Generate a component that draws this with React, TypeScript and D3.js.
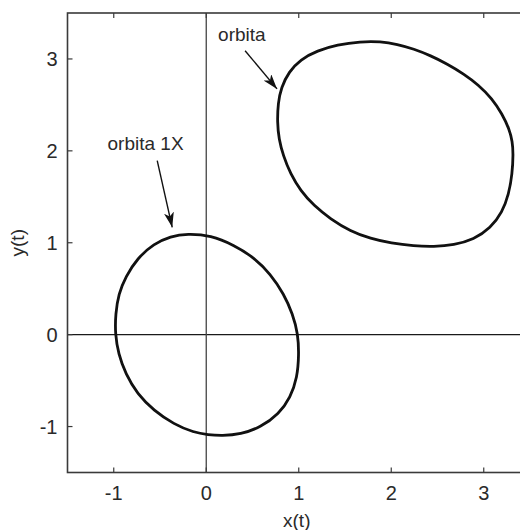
import React from "react";
import * as d3 from "d3";

// Closed orbits of the system, sampled counter-clockwise in the (x, y) phase plane
const orbit1X: [number, number][] = [
  [0.992, 0.008], [0.935, 0.225], [0.839, 0.443], [0.695, 0.66], [0.515, 0.841],
  [0.298, 0.975], [0.05, 1.08], [-0.205, 1.1], [-0.386, 1.07], [-0.566, 0.99],
  [-0.746, 0.83], [-0.872, 0.63], [-0.948, 0.443], [-0.981, 0.225], [-0.985, 0.008],
  [-0.95, -0.21], [-0.872, -0.428], [-0.746, -0.645], [-0.566, -0.827], [-0.35, -0.975],
  [-0.134, -1.065], [0.02, -1.09], [0.17, -1.1], [0.371, -1.085], [0.587, -1.009],
  [0.785, -0.863], [0.911, -0.682], [0.984, -0.465], [1.002, -0.22],
];

const orbitMain: [number, number][] = [
  [3.319, 1.966], [3.31, 2.1], [3.275, 2.24], [3.2, 2.4], [3.09, 2.57],
  [2.94, 2.72], [2.785, 2.837], [2.605, 2.946], [2.425, 3.036], [2.244, 3.109],
  [2.065, 3.16], [1.884, 3.19], [1.668, 3.19], [1.416, 3.155], [1.2, 3.09],
  [1.019, 2.995], [0.893, 2.86], [0.81, 2.69], [0.776, 2.52], [0.768, 2.31],
  [0.785, 2.13], [0.832, 1.948], [0.911, 1.749], [1.019, 1.567], [1.163, 1.404],
  [1.343, 1.259], [1.559, 1.125], [1.776, 1.045], [2.0, 0.995], [2.244, 0.965],
  [2.461, 0.957], [2.677, 0.975], [2.893, 1.035], [3.074, 1.16], [3.2, 1.33],
  [3.271, 1.53], [3.308, 1.749],
];

const xTicks = [-1, 0, 1, 2, 3];
const yTicks = [-1, 0, 1, 2, 3];
const xDomain: [number, number] = [-1.5, 3.5];
const yDomain: [number, number] = [-1.5, 3.5];

// Annotation labels with arrows: text anchor, arrow tail, arrow tip (data coords)
const annotationLabels = ["orbita 1X", "orbita"];
const annotationText: [number, number][] = [[-1.067, 2.013], [0.128, 3.19]];
const arrowTail: [number, number][] = [[-0.53, 1.893], [0.42, 3.09]];
const arrowTip: [number, number][] = [[-0.368, 1.168], [0.765, 2.674]];

const W = 520;
const H = 530;
const left = 67.5;
const right = 530;
const top = 13;
const bottom = 472.5;

export default function App() {
  const x = d3.scaleLinear().domain(xDomain).range([left, right]);
  const y = d3.scaleLinear().domain(yDomain).range([bottom, top]);

  const line = d3
    .line<[number, number]>()
    .x((d) => x(d[0]))
    .y((d) => y(d[1]))
    .curve(d3.curveBasisClosed);

  const font = "'Liberation Sans', Arial, sans-serif";
  const tickLen = 5;
  const frameColor = "#3a3a3a";
  const textColor = "#2a2a2a";

  return (
    <svg
      width={W}
      height={H}
      style={{ position: "absolute", left: 0, top: 0, background: "#fff" }}
      fontFamily={font}
    >
      <defs>
        <clipPath id="plot-area">
          <rect x={left} y={top} width={right - left} height={bottom - top} />
        </clipPath>
        <marker
          id="arrowhead"
          markerUnits="userSpaceOnUse"
          markerWidth={16}
          markerHeight={12}
          refX={15}
          refY={5}
          orient="auto"
        >
          <path d="M0,0 L15,5 L0,10 L4,5 Z" fill="#111" />
        </marker>
      </defs>

      {/* zero axes */}
      <g clipPath="url(#plot-area)">
        <line x1={left} x2={right} y1={y(0)} y2={y(0)} stroke="#1a1a1a" strokeWidth={1.3} />
        <line x1={x(0)} x2={x(0)} y1={top} y2={bottom} stroke="#444" strokeWidth={1.3} />
      </g>

      {/* orbits */}
      <g clipPath="url(#plot-area)" fill="none" stroke="#111" strokeWidth={2.8}>
        <path d={line(orbit1X) ?? ""} />
        <path d={line(orbitMain) ?? ""} />
      </g>

      {/* frame */}
      <rect
        x={left}
        y={top}
        width={right - left}
        height={bottom - top}
        fill="none"
        stroke={frameColor}
        strokeWidth={1.6}
      />

      {/* x ticks: inward on bottom and top */}
      {xTicks.map((t) => (
        <g key={"x" + t}>
          <line x1={x(t)} x2={x(t)} y1={bottom} y2={bottom - tickLen} stroke={frameColor} strokeWidth={1.2} />
          <line x1={x(t)} x2={x(t)} y1={top} y2={top + tickLen} stroke={frameColor} strokeWidth={1.2} />
          <text
            x={x(t)}
            y={bottom + 27}
            textAnchor="middle"
            fontSize={20}
            fill={textColor}
          >
            {t < 0 ? "-" + Math.abs(t) : String(t)}
          </text>
        </g>
      ))}

      {/* y ticks: inward on left */}
      {yTicks.map((t) => (
        <g key={"y" + t}>
          <line x1={left} x2={left + tickLen} y1={y(t)} y2={y(t)} stroke={frameColor} strokeWidth={1.2} />
          <text
            x={left - 10}
            y={y(t) + 7}
            textAnchor="end"
            fontSize={20}
            fill={textColor}
          >
            {t < 0 ? "-" + Math.abs(t) : String(t)}
          </text>
        </g>
      ))}

      {/* axis labels */}
      <text x={(left + right) / 2 - 2} y={527} textAnchor="middle" fontSize={19} fill={textColor}>
        x(t)
      </text>
      <text
        transform={`translate(24, ${(top + bottom) / 2}) rotate(-90)`}
        textAnchor="middle"
        fontSize={19}
        fill={textColor}
      >
        y(t)
      </text>

      {/* annotations */}
      {annotationLabels.map((label, i) => (
        <g key={label}>
          <text
            x={x(annotationText[i][0])}
            y={y(annotationText[i][1])}
            fontSize={19}
            fill={textColor}
          >
            {label}
          </text>
          <line
            x1={x(arrowTail[i][0])}
            y1={y(arrowTail[i][1])}
            x2={x(arrowTip[i][0])}
            y2={y(arrowTip[i][1])}
            stroke="#111"
            strokeWidth={1.4}
            markerEnd="url(#arrowhead)"
          />
        </g>
      ))}
    </svg>
  );
}
